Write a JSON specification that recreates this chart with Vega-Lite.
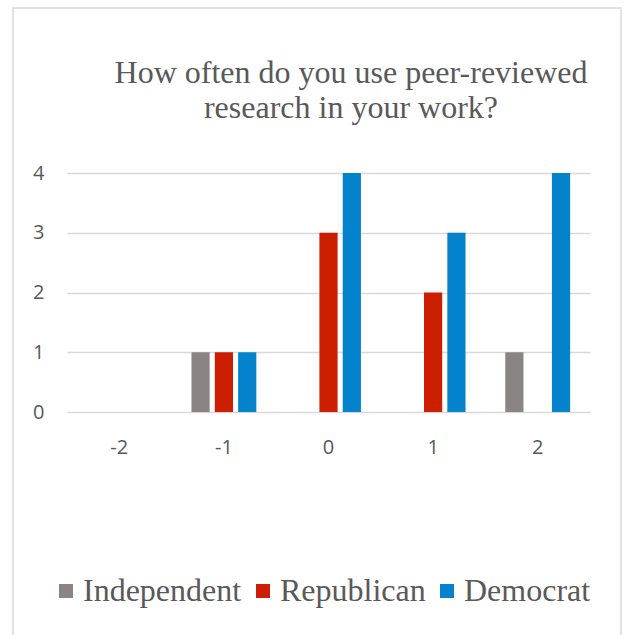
{
  "$schema": "https://vega.github.io/schema/vega-lite/v6.json",
  "width": 608,
  "height": 630,
  "autosize": {"type": "none"},
  "padding": {"left": 13, "top": 8, "right": 5, "bottom": 0},
  "background": "white",
  "title": {
    "text": ["How often do you use peer-reviewed", "research in your work?"],
    "frame": "group",
    "anchor": "middle",
    "baseline": "alphabetic",
    "offset": -142,
    "dx": 34,
    "lineHeight": 35,
    "font": "Liberation Serif",
    "fontSize": 32,
    "fontWeight": "normal",
    "color": "#595959"
  },
  "data": {
    "values": [
      {"score": -2, "party": "Independent", "count": 0},
      {"score": -2, "party": "Republican", "count": 0},
      {"score": -2, "party": "Democrat", "count": 0},
      {"score": -1, "party": "Independent", "count": 1},
      {"score": -1, "party": "Republican", "count": 1},
      {"score": -1, "party": "Democrat", "count": 1},
      {"score": 0, "party": "Independent", "count": 0},
      {"score": 0, "party": "Republican", "count": 3},
      {"score": 0, "party": "Democrat", "count": 4},
      {"score": 1, "party": "Independent", "count": 0},
      {"score": 1, "party": "Republican", "count": 2},
      {"score": 1, "party": "Democrat", "count": 3},
      {"score": 2, "party": "Independent", "count": 1},
      {"score": 2, "party": "Republican", "count": 0},
      {"score": 2, "party": "Democrat", "count": 4}
    ]
  },
  "mark": {"type": "bar"},
  "encoding": {
    "x": {
      "field": "score",
      "type": "ordinal",
      "scale": {"range": [54, 577], "paddingInner": 0.38, "paddingOuter": 0.19},
      "axis": {
        "title": null,
        "orient": "bottom",
        "offset": -226,
        "domain": false,
        "ticks": false,
        "tickSize": 0,
        "labelPadding": 25,
        "labelAngle": 0,
        "labelFont": "Open Sans",
        "labelFontSize": 20,
        "labelColor": "#595959"
      }
    },
    "xOffset": {
      "field": "party",
      "type": "nominal",
      "sort": ["Independent", "Republican", "Democrat"],
      "scale": {"paddingInner": 0.22, "paddingOuter": 0}
    },
    "y": {
      "field": "count",
      "type": "quantitative",
      "scale": {"domain": [0, 4], "range": [404, 165], "nice": false},
      "axis": {
        "title": null,
        "orient": "left",
        "offset": -54,
        "values": [0, 1, 2, 3, 4],
        "labelOverlap": false,
        "domain": false,
        "ticks": false,
        "tickSize": 0,
        "labelPadding": 23,
        "labelFont": "Open Sans",
        "labelFontSize": 20,
        "labelColor": "#595959",
        "grid": true,
        "gridColor": "#d9d9d9",
        "gridWidth": 1.5
      }
    },
    "color": {
      "field": "party",
      "type": "nominal",
      "sort": ["Independent", "Republican", "Democrat"],
      "scale": {
        "domain": ["Independent", "Republican", "Democrat"],
        "range": ["#8a8584", "#cc1e00", "#0483cc"]
      },
      "legend": {
        "orient": "none",
        "legendX": 37,
        "legendY": 567,
        "direction": "horizontal",
        "title": null,
        "symbolType": "square",
        "symbolSize": 196,
        "symbolStrokeWidth": 0,
        "symbolOpacity": 1,
        "labelFont": "Liberation Serif",
        "labelFontSize": 32,
        "labelColor": "#595959",
        "labelOffset": 1,
        "columnPadding": 5,
        "labelLimit": 400
      }
    }
  },
  "config": {
    "view": {"stroke": "#d9d9d9", "strokeWidth": 1.5}
  }
}
